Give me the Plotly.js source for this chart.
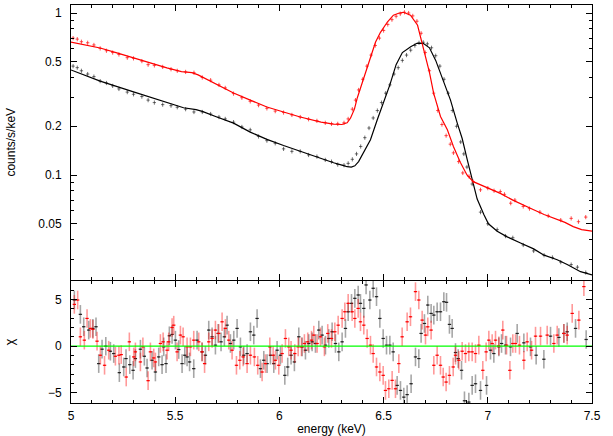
<!DOCTYPE html>
<html>
<head>
<meta charset="utf-8">
<script src="https://cdn.plot.ly/plotly-3.0.1.min.js"></script>
<style>html,body{margin:0;padding:0;background:#fff;}#chart{width:613px;height:436px;}</style>
</head>
<body>
<div id="chart"></div>
<script>
// ---------------- DATA ----------------
// Model curves (energy keV, counts/s/keV)
const blackModelE = [5.00,5.14,5.30,5.46,5.54,5.60,5.63,5.70,5.78,5.86,5.94,6.02,6.10,6.18,6.26,6.30,6.325,6.345,6.362,6.38,6.40,6.437,6.47,6.50,6.53,6.56,6.59,6.63,6.66,6.69,6.72,6.75,6.78,6.821,6.853,6.877,6.901,6.925,6.949,6.981,7.003,7.045,7.093,7.157,7.22,7.27,7.333,7.381,7.445,7.50];
const blackModelV = [0.445,0.38,0.326,0.282,0.26,0.253,0.247,0.228,0.209,0.184,0.166,0.152,0.14,0.128,0.119,0.115,0.1125,0.112,0.114,0.121,0.135,0.165,0.22,0.28,0.36,0.48,0.57,0.62,0.65,0.65,0.61,0.51,0.40,0.29,0.21,0.168,0.125,0.095,0.071,0.057,0.050,0.045,0.0415,0.038,0.035,0.032,0.030,0.028,0.0253,0.0242];
const redModelE = [5.00,5.07,5.14,5.22,5.30,5.38,5.46,5.53,5.58,5.61,5.64,5.70,5.78,5.86,5.94,6.02,6.10,6.20,6.26,6.30,6.325,6.341,6.36,6.374,6.389,6.413,6.437,6.461,6.485,6.518,6.547,6.575,6.595,6.629,6.663,6.686,6.72,6.74,6.773,6.806,6.835,6.868,6.90,6.93,7.00,7.06,7.12,7.17,7.22,7.27,7.32,7.37,7.41,7.45,7.50];
const redModelV = [0.662,0.635,0.608,0.567,0.527,0.492,0.458,0.435,0.428,0.415,0.397,0.36,0.321,0.29,0.263,0.245,0.228,0.212,0.206,0.205,0.21,0.224,0.255,0.30,0.345,0.43,0.53,0.66,0.76,0.88,0.97,1.0,1.01,0.97,0.84,0.65,0.43,0.32,0.23,0.19,0.15,0.12,0.10,0.091,0.083,0.077,0.070,0.065,0.061,0.057,0.054,0.051,0.048,0.046,0.045];

// Observed spectra (top panel)
const blackDataE = [5.01,5.03,5.05,5.08,5.11,5.14,5.17,5.20,5.23,5.27,5.30,5.34,5.37,5.40,5.44,5.48,5.51,5.55,5.59,5.63,5.67,5.71,5.74,5.78,5.82,5.86,5.90,5.94,5.98,6.02,6.06,6.10,6.14,6.18,6.22,6.25,6.28,6.31,6.33,6.35,6.37,6.39,6.41,6.43,6.45,6.47,6.49,6.51,6.53,6.55,6.57,6.59,6.61,6.63,6.65,6.67,6.69,6.71,6.73,6.75,6.77,6.79,6.81,6.83,6.85,6.87,6.885,6.90,6.925,6.965,7.00,7.045,7.085,7.12,7.17,7.22,7.27,7.31,7.35,7.40,7.43,7.47];
const blackDataV = [0.47,0.46,0.44,0.42,0.405,0.38,0.37,0.355,0.34,0.325,0.315,0.305,0.29,0.28,0.272,0.268,0.262,0.255,0.245,0.245,0.238,0.228,0.222,0.212,0.198,0.19,0.173,0.163,0.157,0.145,0.14,0.14,0.133,0.13,0.124,0.121,0.116,0.115,0.118,0.125,0.135,0.15,0.17,0.195,0.225,0.25,0.28,0.32,0.36,0.42,0.46,0.51,0.55,0.59,0.63,0.655,0.66,0.645,0.61,0.545,0.47,0.39,0.32,0.25,0.20,0.16,0.135,0.112,0.088,0.059,0.050,0.046,0.042,0.041,0.037,0.034,0.032,0.031,0.029,0.028,0.027,0.025];
const redDataE = [5.01,5.03,5.05,5.08,5.11,5.14,5.17,5.20,5.23,5.27,5.30,5.34,5.37,5.40,5.44,5.48,5.51,5.55,5.59,5.63,5.67,5.71,5.74,5.78,5.82,5.86,5.90,5.94,5.98,6.02,6.06,6.10,6.14,6.18,6.22,6.25,6.28,6.31,6.33,6.35,6.365,6.38,6.40,6.42,6.44,6.46,6.48,6.50,6.52,6.54,6.56,6.58,6.60,6.62,6.64,6.66,6.68,6.70,6.72,6.74,6.76,6.78,6.80,6.82,6.835,6.86,6.88,6.91,6.93,6.965,7.00,7.03,7.06,7.08,7.11,7.13,7.17,7.20,7.25,7.29,7.35,7.40,7.435,7.47];
const redDataV = [0.70,0.69,0.665,0.655,0.635,0.605,0.585,0.57,0.555,0.53,0.525,0.505,0.48,0.475,0.465,0.45,0.44,0.433,0.428,0.40,0.385,0.36,0.345,0.318,0.30,0.285,0.27,0.258,0.248,0.243,0.235,0.228,0.221,0.216,0.21,0.207,0.207,0.21,0.222,0.255,0.29,0.335,0.39,0.47,0.55,0.63,0.70,0.78,0.85,0.91,0.955,0.99,1.01,1.0,0.96,0.89,0.75,0.57,0.44,0.32,0.25,0.205,0.175,0.155,0.137,0.121,0.103,0.098,0.091,0.081,0.083,0.080,0.079,0.076,0.067,0.070,0.064,0.062,0.059,0.056,0.0527,0.054,0.0515,0.055];

// Residuals (chi)
const blackResE = [5.016,5.045,5.061,5.085,5.105,5.120,5.133,5.149,5.167,5.189,5.205,5.232,5.253,5.264,5.282,5.298,5.309,5.333,5.352,5.365,5.389,5.405,5.421,5.437,5.445,5.456,5.472,5.485,5.501,5.517,5.533,5.546,5.557,5.569,5.589,5.605,
 5.629,5.645,5.661,5.677,5.693,5.706,5.720,5.736,5.749,5.765,5.781,5.797,5.813,5.829,5.845,5.861,5.877,5.893,5.909,5.925,5.941,5.957,5.973,5.989,6.005,6.026,6.040,6.056,6.072,6.093,6.109,6.125,6.141,6.157,6.173,6.189,6.205,6.221,6.237,6.253,6.269,6.285,6.301,6.317,6.330,6.346,6.362,6.378,6.389,6.405,6.416,6.434,6.450,6.466,6.482,6.498,6.514,6.530,6.546,6.565,6.581,6.597,6.613,
 6.632,6.653,6.669,6.680,6.696,6.712,6.728,6.741,6.757,6.773,6.789,6.802,6.816,6.829,6.845,6.858,6.874,6.888,6.909,6.925,6.941,6.965,6.994,7.013,7.029,7.053,7.066,7.085,7.109,7.141,7.173,7.205,7.232,7.269,7.301,7.341,7.365,7.381,7.421,7.472];
const blackResChi = [4.96,3.42,2.09,1.73,1.91,2.09,-1.87,-0.32,0,-0.54,-0.79,-2.84,-2.23,-1.33,-1.98,-2.59,-1.33,-0.32,-1.08,-2.34,-1.51,-2.77,-1.15,-1.98,-0.07,-1.87,1.12,1.26,0.65,-0.36,-1.87,-0.97,-1.15,-1.69,-2.41,0.65,
 -0.61,-0.97,1.73,1.01,0.11,1.37,0.47,1.01,2.26,0.29,0.65,1.91,-0.07,-0.97,-0.79,1.55,1.19,2.98,-2.41,-1.51,-1.87,-0.97,-1.87,-0.43,-0.97,-3.13,-2.23,-0.97,-1.69,1.01,-0.07,-0.43,0.29,0.47,0.29,1.73,1.19,0.11,0.83,1.55,0.29,-0.61,0.47,1.91,3.70,4.60,5.14,5.50,4.60,4.06,6.58,4.96,6.22,5.32,2.98,0.83,0.11,0.11,-0.61,-4.21,-4.75,-5.47,-5.2,
 -4.03,-1.15,-1.33,1.37,2.44,4.42,3.52,3.34,3.70,3.70,4.78,4.71,2.34,1.91,-0.68,-1.33,-2.59,-5.86,-6.0,-4.21,-4.03,-4.75,-4.21,-0.43,-0.79,-0.07,0.29,0.11,-0.07,1.37,0.36,-0.07,-0.97,-1.40,1.08,0.94,1.37,1.55,1.91,0.72];
const redResE = [5.016,5.032,5.045,5.064,5.077,5.093,5.105,5.125,5.141,5.161,5.181,5.213,5.230,5.241,5.265,5.280,5.301,5.309,5.333,5.345,5.370,5.381,5.397,5.405,5.429,5.442,5.461,5.469,5.485,5.493,5.509,5.525,5.538,5.557,5.573,5.589,5.613,
 5.629,5.641,5.661,5.677,5.693,5.709,5.725,5.741,5.757,5.773,5.794,5.810,5.826,5.845,5.861,5.880,5.896,5.917,5.933,5.954,5.970,5.981,5.997,6.013,6.029,6.045,6.056,6.074,6.090,6.106,6.120,6.136,6.154,6.165,6.181,6.197,6.216,6.232,6.250,6.266,6.282,6.301,6.314,6.330,6.349,6.362,6.378,6.389,6.405,6.421,6.437,6.450,6.466,6.482,6.498,6.509,6.525,6.541,6.557,6.573,6.589,
 6.613,6.629,6.653,6.669,6.685,6.701,6.712,6.728,6.741,6.757,6.773,6.786,6.800,6.816,6.834,6.845,6.861,6.877,6.893,6.909,6.925,6.941,6.957,6.976,6.992,7.005,7.021,7.037,7.053,7.072,7.090,7.106,7.120,7.133,7.152,7.173,7.189,7.210,7.229,7.253,7.285,7.317,7.333,7.365,7.381,7.405,7.437,7.461];
const redResChi = [4.49,4.96,1.01,0.65,2.98,1.91,1.80,0.54,-0.97,-2.05,-0.43,-1.08,-0.97,-0.90,-3.31,0.47,-1.15,-0.61,-1.69,-0.07,-3.70,-0.61,-1.26,-1.69,0.29,0.47,-0.43,0.47,2.01,2.26,-0.61,1.19,1.01,-0.07,-0.07,0.65,0.47,
 -0.61,-1.87,0.47,0.83,1.73,1.37,2.62,1.91,0.65,-0.43,-2.05,-1.51,-1.15,-1.87,-0.97,-1.15,-2.05,-2.77,-1.87,-0.07,-0.97,-1.51,-2.05,-0.79,0.83,-0.07,-0.43,-0.79,-0.07,-0.07,0.29,0.47,0.65,1.19,0.29,1.01,-0.07,1.37,0.83,1.55,2.26,2.98,3.70,4.60,3.70,2.98,4.06,2.62,2.26,0.83,0.11,-0.79,-2.23,-2.77,-3.13,-4.75,-4.57,-3.67,-4.57,-1.87,1.01,
 2.62,3.16,5.86,4.96,2.80,1.19,2.08,1.73,-2.05,-0.97,-2.05,-3.31,-3.85,-3.13,-2.23,-0.97,-1.51,-0.54,-0.79,-0.61,-0.61,-0.79,0.11,-2.59,-0.61,0.65,0.29,0.65,0.04,1.73,0.11,-2.59,0.29,0.29,0.11,-1.51,0.47,-0.43,1.08,1.08,1.19,0.29,1.19,1.37,1.19,3.52,2.80,6.40];

const zeroLineE = [5, 7.5];
const zeroLineChi = [0, 0];

const xTickVals = [5, 5.5, 6, 6.5, 7, 7.5];
const xTickText = ['5', '5.5', '6', '6.5', '7', '7.5'];
const yTopTickVals = [0.05, 0.1, 0.2, 0.5, 1];
const yTopTickText = ['0.05', '0.1', '0.2', '0.5', '1'];
const yBotTickVals = [-5, 0, 5];
const yBotTickText = ['\u22125', '0', '5'];

// ---------------- PLOT ----------------
const xMinor = [];
for (let k = 50; k <= 75; k++) { if (k % 5 !== 0) xMinor.push(k / 10); }
const yTopMinor = [0.03,0.04,0.06,0.07,0.08,0.09,0.3,0.4,0.6,0.7,0.8,0.9];
const yBotMinor = [-6,-4,-3,-2,-1,1,2,3,4,6,7];

const traces = [
  {x: blackDataE, y: blackDataV, xaxis:'x', yaxis:'y', mode:'markers', type:'scatter',
   marker:{size:1, color:'rgba(60,60,60,0.7)'},
   error_x:{type:'constant', value:0.008, color:'rgba(70,70,70,0.75)', thickness:1, width:0},
   error_y:{type:'percent', value:3, color:'rgba(70,70,70,0.75)', thickness:1, width:0}},
  {x: blackModelE, y: blackModelV, xaxis:'x', yaxis:'y', mode:'lines', type:'scatter',
   line:{color:'#000', width:1.2, shape:'linear'}},
  {x: redDataE, y: redDataV, xaxis:'x', yaxis:'y', mode:'markers', type:'scatter',
   marker:{size:1, color:'rgba(255,40,40,0.75)'},
   error_x:{type:'constant', value:0.008, color:'rgba(255,40,40,0.8)', thickness:1, width:0},
   error_y:{type:'percent', value:3, color:'rgba(255,40,40,0.8)', thickness:1, width:0}},
  {x: redModelE, y: redModelV, xaxis:'x', yaxis:'y', mode:'lines', type:'scatter',
   line:{color:'#ff0000', width:1.2, shape:'linear'}},
  {x: blackResE, y: blackResChi, xaxis:'x2', yaxis:'y2', mode:'markers', type:'scatter',
   marker:{size:1, color:'#222'},
   error_x:{type:'constant', value:0.008, color:'#222', thickness:1.2, width:0},
   error_y:{type:'constant', value:1, color:'rgba(0,0,0,0.35)', thickness:1.6, width:0}},
  {x: redResE, y: redResChi, xaxis:'x2', yaxis:'y2', mode:'markers', type:'scatter',
   marker:{size:1, color:'#ff0000'},
   error_x:{type:'constant', value:0.008, color:'#ff0000', thickness:1.2, width:0},
   error_y:{type:'constant', value:1, color:'rgba(255,0,0,0.4)', thickness:1.6, width:0}},
  {x: zeroLineE, y: zeroLineChi, xaxis:'x2', yaxis:'y2', mode:'lines', type:'scatter',
   line:{color:'#00ff00', width:1.2}}
];

const axisCommon = {
  showline:true, linecolor:'#000', linewidth:1, mirror:'allticks',
  ticks:'inside', ticklen:6, tickcolor:'#000', tickwidth:1,
  showgrid:false, zeroline:false, tickmode:'array',
  tickfont:{family:'Liberation Sans, Arial, sans-serif', size:12, color:'#000'}
};

const layout = {
  width:613, height:436,
  margin:{l:71, r:21, t:5, b:33, pad:0},
  paper_bgcolor:'#fff', plot_bgcolor:'#fff',
  showlegend:false,
  font:{family:'Liberation Sans, Arial, sans-serif', size:12, color:'#000'},
  xaxis: Object.assign({}, axisCommon, {
    domain:[0,1], anchor:'y', range:[5,7.5], tickvals:xTickVals, ticktext:xTickText,
    showticklabels:false,
    minor:{tickmode:'array', tickvals:xMinor, ticks:'inside', ticklen:3, tickcolor:'#000', showgrid:false}
  }),
  yaxis: Object.assign({}, axisCommon, {
    domain:[0.3103,1], anchor:'x', type:'log', range:[-1.645,0.0494],
    tickvals:yTopTickVals, ticktext:yTopTickText, ticklabelstandoff:6,
    minor:{tickmode:'array', tickvals:yTopMinor, ticks:'inside', ticklen:3, tickcolor:'#000', showgrid:false},
    title:{text:'counts/s/keV', standoff:20, font:{size:12}}
  }),
  xaxis2: Object.assign({}, axisCommon, {
    domain:[0,1], anchor:'y2', range:[5,7.5], tickvals:xTickVals, ticktext:xTickText,
    ticklabelstandoff:2,
    minor:{tickmode:'array', tickvals:xMinor, ticks:'inside', ticklen:3, tickcolor:'#000', showgrid:false},
    title:{text:'energy (keV)', standoff:2, font:{size:12}}
  }),
  yaxis2: Object.assign({}, axisCommon, {
    domain:[0,0.3065], anchor:'x2', range:[-6.1,7],
    tickvals:yBotTickVals, ticktext:yBotTickText, ticklabelstandoff:6,
    minor:{tickmode:'array', tickvals:yBotMinor, ticks:'inside', ticklen:3, tickcolor:'#000', showgrid:false},
    title:{text:'\u03c7', standoff:30, font:{size:13}}
  })
};

Plotly.newPlot('chart', traces, layout, {displayModeBar:false, staticPlot:true});
</script>
</body>
</html>
